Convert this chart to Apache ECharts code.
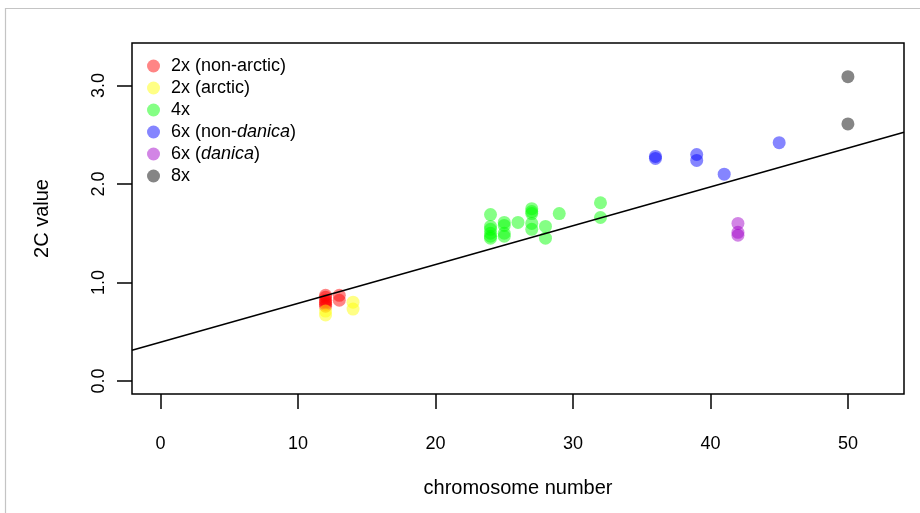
<!DOCTYPE html>
<html>
<head>
<meta charset="utf-8">
<script src="https://cdn.jsdelivr.net/npm/echarts@6/dist/echarts.min.js"></script>
<style>
  html, body { margin: 0; padding: 0; background: #fff; }
  #chart { width: 920px; height: 513px; }
</style>
</head>
<body>
<div id="chart"></div>
<script>
// ploidy groups: [chromosome number, 2C value]
var diploidNonArctic = [[12, 0.87], [12, 0.85], [12, 0.82], [12, 0.80], [12, 0.78], [12, 0.76], [13, 0.87], [13, 0.82]];
var diploidArctic = [[12, 0.71], [12, 0.67], [14, 0.80], [14, 0.73]];
var tetraploid = [[24, 1.69], [24, 1.57], [24, 1.54], [24, 1.50], [24, 1.47], [24, 1.45],
    [25, 1.61], [25, 1.58], [25, 1.50], [25, 1.47], [26, 1.61],
    [27, 1.75], [27, 1.72], [27, 1.70], [27, 1.60], [27, 1.54],
    [28, 1.57], [28, 1.45], [29, 1.70], [32, 1.81], [32, 1.66]];
var hexaNonDanica = [[36, 2.28], [36, 2.26], [39, 2.30], [39, 2.24], [41, 2.10], [45, 2.42]];
var hexaDanica = [[42, 1.60], [42, 1.51], [42, 1.48]];
var octoploid = [[50, 3.09], [50, 2.61]];

var groupNames = ['2x (non-arctic)', '2x (arctic)', '4x', '6x (non-danica)', '6x (danica)', '8x'];
var groupColors = ['rgba(255,0,0,0.6)', 'rgba(255,255,0,0.6)', 'rgba(0,255,0,0.6)',
    'rgba(0,0,255,0.6)', 'rgba(160,0,200,0.6)', 'rgba(0,0,0,0.6)'];
var groupData = [diploidNonArctic, diploidArctic, tetraploid, hexaNonDanica, hexaDanica, octoploid];

// linear fit  2C = a + b * chromosomes
var fitIntercept = 0.395;
var fitSlope = 0.0394;

var xTicks = [0, 10, 20, 30, 40, 50];
var yTicks = [0, 1, 2, 3];
var xMin = -2.08, xMax = 54.08;
var yMin = -0.132, yMax = 3.432;

var font = 'Liberation Sans';
var myChart = echarts.init(document.getElementById('chart'));

var series = groupData.map(function (d, i) {
    return {
        name: groupNames[i],
        type: 'scatter',
        data: d,
        symbolSize: 13,
        itemStyle: { color: groupColors[i] },
        emphasis: { disabled: true },
        z: 2
    };
});
series.push({
    name: 'fit',
    type: 'line',
    data: [[xMin, fitIntercept + fitSlope * xMin], [xMax, fitIntercept + fitSlope * xMax]],
    symbol: 'none',
    lineStyle: { color: '#000', width: 1.5 },
    silent: true,
    z: 3
});

var option = {
    animation: false,
    backgroundColor: '#fff',
    textStyle: { fontFamily: font },
    graphic: [{
        type: 'polyline',
        shape: { points: [[5.5, 520], [5.5, 8.5], [930, 8.5]] },
        style: { stroke: '#c4c4c4', fill: null, lineWidth: 1.2 },
        silent: true
    }],
    grid: {
        left: 132, right: 16, top: 43, bottom: 119,
        show: true, borderColor: '#000', borderWidth: 1.5, backgroundColor: 'transparent'
    },
    legend: {
        data: groupNames,
        orient: 'vertical',
        left: 142,
        top: 52,
        icon: 'circle',
        itemWidth: 25,
        itemHeight: 13,
        itemGap: 4,
        selectedMode: false,
        textStyle: {
            fontFamily: font, fontSize: 18, color: '#000',
            rich: {
                n: { fontFamily: font, fontSize: 18, color: '#000' },
                i: { fontFamily: font, fontSize: 18, color: '#000', fontStyle: 'italic' }
            }
        },
        formatter: function (name) {
            if (name === '6x (non-danica)') return '{n|6x (non-}{i|danica}{n|)}';
            if (name === '6x (danica)') return '{n|6x (}{i|danica}{n|)}';
            return '{n|' + name + '}';
        }
    },
    xAxis: {
        type: 'value',
        min: xMin,
        max: xMax,
        name: 'chromosome number',
        nameLocation: 'middle',
        nameGap: 84,
        nameTextStyle: { fontFamily: font, fontSize: 20, color: '#000' },
        axisLine: { show: false, onZero: false },
        splitLine: { show: false },
        axisTick: { show: true, length: 15, customValues: xTicks, lineStyle: { color: '#000', width: 1.5 } },
        axisLabel: { customValues: xTicks, margin: 41, fontFamily: font, fontSize: 18, color: '#000' }
    },
    yAxis: {
        type: 'value',
        min: yMin,
        max: yMax,
        name: '2C value',
        nameLocation: 'middle',
        nameGap: 80,
        nameTextStyle: { fontFamily: font, fontSize: 20, color: '#000' },
        axisLine: { show: false, onZero: false },
        splitLine: { show: false },
        axisTick: { show: true, length: 15, customValues: yTicks, lineStyle: { color: '#000', width: 1.5 } },
        axisLabel: {
            customValues: yTicks, rotate: 90, margin: 24,
            fontFamily: font, fontSize: 18, color: '#000',
            formatter: function (v) { return v.toFixed(1); }
        }
    },
    series: series
};

option && myChart.setOption(option);
</script>
</body>
</html>
